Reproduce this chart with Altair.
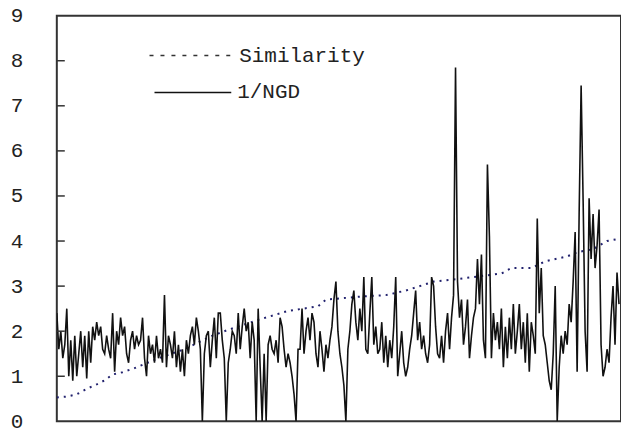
import altair as alt
import pandas as pd

# 1/NGD series (one value every index step)
ngd = [
    2.4, 1.6, 2.0, 1.4, 1.7, 2.5, 1.0, 1.8, 0.9, 1.9,
    1.0, 1.5, 2.0, 1.2, 1.9, 0.95, 2.0, 1.3, 2.1, 1.8,
    2.2, 1.9, 2.1, 1.6, 1.5, 1.9, 1.6, 1.4, 2.4, 1.1,
    2.0, 1.7, 2.3, 1.9, 2.1, 1.5, 1.3, 1.8, 2.0, 1.6,
    1.9, 1.7,
    1.8, 2.3, 1.4, 1.0, 1.9, 1.5, 1.7, 1.3, 1.9, 1.4,
    1.6, 1.3, 2.8, 1.2, 1.9, 1.7, 1.4, 2.0, 1.2, 1.7,
    1.1, 1.6, 1.0, 1.8, 1.5, 1.9, 2.1, 1.7, 2.3, 2.0,
    1.6, 0.0, 1.5, 1.9, 2.0, 1.2, 1.8, 2.3, 1.4, 2.4,
    2.4, 1.8, 1.4, 0.0, 1.3, 1.6, 2.0, 1.9, 1.5, 2.4,
    1.6, 2.1, 2.5, 2.0, 2.2, 1.4, 2.2, 1.8, 0.0, 2.5,
    1.2, 0.0, 1.5, 0.0, 1.7, 1.9, 1.6, 1.5, 1.8, 1.3,
    2.3, 2.1, 1.6, 1.2, 1.5, 1.3, 1.0, 0.6, 0.0, 1.6,
    1.6, 2.5, 1.5, 2.0, 2.3, 1.8, 2.4, 2.2, 1.5, 1.2,
    2.0, 1.6, 1.1, 1.7, 1.4, 1.8, 2.1, 2.7, 3.1, 2.0,
    1.5, 1.2, 0.8, 0.0, 1.6, 2.0, 2.6, 2.9, 2.2, 1.8,
    2.5, 2.0, 3.2, 1.6, 1.5, 2.4, 3.2, 1.7, 2.1, 1.5,
    1.6, 2.2, 1.3, 1.9, 1.2, 1.8, 1.4, 2.1, 3.2, 1.0,
    1.5, 2.0, 1.3, 1.0, 1.2, 1.6, 1.9, 2.4, 2.9, 1.8,
    2.2, 1.6, 1.9, 1.5, 1.3, 1.7, 3.2, 3.0, 2.1, 1.5,
    1.4, 1.9, 1.3, 2.0, 2.4, 1.6, 2.3, 2.8, 7.85, 3.1,
    2.3, 2.7, 1.7, 2.1, 2.7, 1.4, 1.9, 2.3, 2.5, 3.6,
    2.6, 3.7, 1.8, 1.4, 5.7, 4.1, 1.4, 2.4,
    1.8, 2.2, 1.6, 2.5, 1.2, 2.1, 1.4, 2.3, 1.6, 2.6,
    1.5, 2.0, 2.6, 1.6, 2.2, 1.3, 2.4, 1.1, 2.2, 1.9,
    1.5, 4.5,
    2.4, 3.4, 1.9, 1.7, 1.3, 0.9, 0.7, 1.5, 3.0, 0.0,
    1.2, 1.9, 1.5, 2.0, 1.7, 2.6, 2.2, 3.1, 4.2, 1.1,
    4.6, 7.45, 4.9, 2.0, 1.1, 4.95, 3.6, 4.6, 3.4, 3.9,
    4.7, 1.7, 1.0, 1.2, 1.6, 1.3, 2.3, 3.0, 1.7, 3.3, 2.6,
]

# Similarity series (index, value)
sim_x = [0, 5, 10, 15.5, 20, 24, 28, 33, 39, 51, 64, 78, 86.5, 101, 116,
         131, 135, 153, 165, 175, 189, 200, 223, 228, 238, 245, 256, 261,
         269, 276, 282]
sim_y = [0.53, 0.55, 0.6, 0.73, 0.82, 0.91, 1.04, 1.09, 1.18, 1.4, 1.6, 1.9,
         2.04, 2.25, 2.45, 2.55, 2.7, 2.77, 2.8, 2.9, 3.1, 3.15, 3.28, 3.4,
         3.4, 3.55, 3.66, 3.75, 3.82, 4.0, 4.05]

y_ticks = [0, 1, 2, 3, 4, 5, 6, 7, 8, 9]
inner_ticks = [1, 2, 3, 4, 5, 6, 7, 8]
legend_labels = ["Similarity", "1/NGD"]

FONT = "Liberation Mono"

ngd_df = pd.DataFrame({"i": list(range(len(ngd))), "v": ngd})
sim_df = pd.DataFrame({"i": sim_x, "v": sim_y})
tick_df = pd.DataFrame({"t": inner_ticks})

xscale = alt.Scale(domain=[0, 283], nice=False, zero=False)
yscale = alt.Scale(domain=[0, 9], nice=False)

yaxis = alt.Axis(values=y_ticks, domain=False, ticks=False, grid=False,
                 labelFont=FONT, labelFontSize=21, labelColor="#222",
                 labelPadding=34, title=None)

ngd_line = alt.Chart(ngd_df).mark_line(color="#111", strokeWidth=1.6, clip=True).encode(
    x=alt.X("i:Q", scale=xscale, axis=None),
    y=alt.Y("v:Q", scale=yscale, axis=yaxis),
)

sim_line = alt.Chart(sim_df).mark_line(color="#22226e", strokeWidth=2,
                                       strokeDash=[2, 5], clip=True).encode(
    x=alt.X("i:Q", scale=xscale, axis=None),
    y=alt.Y("v:Q", scale=yscale, axis=yaxis),
)

ticks = alt.Chart(tick_df).mark_rule(color="#333", strokeWidth=1.5).encode(
    y=alt.Y("t:Q", scale=yscale, axis=yaxis),
    x=alt.value(0), x2=alt.value(8),
)

one = pd.DataFrame({"a": [0]})
leg_sim = alt.Chart(one).mark_rule(color="#333", strokeWidth=1.5, strokeDash=[4, 7]).encode(
    x=alt.value(93), x2=alt.value(178), y=alt.value(40))
leg_ngd = alt.Chart(one).mark_rule(color="#111", strokeWidth=1.5).encode(
    x=alt.value(98), x2=alt.value(175), y=alt.value(77))
leg_t1 = alt.Chart(one).mark_text(align="left", baseline="middle", font=FONT,
                                  fontSize=21, color="#222").encode(
    x=alt.value(183), y=alt.value(40), text=alt.value(legend_labels[0]))
leg_t2 = alt.Chart(one).mark_text(align="left", baseline="middle", font=FONT,
                                  fontSize=21, color="#222").encode(
    x=alt.value(181), y=alt.value(77), text=alt.value(legend_labels[1]))

chart = alt.layer(sim_line, ngd_line, ticks, leg_sim, leg_ngd, leg_t1, leg_t2).properties(
    width=566, height=407,
    autosize=alt.AutoSizeParams(type="none"),
    padding={"left": 57, "top": 15, "right": 0, "bottom": 12},
    background="white",
).configure_view(stroke="#333", strokeWidth=2)

chart.save("out.html", embed_options={"renderer": "svg", "actions": False})
